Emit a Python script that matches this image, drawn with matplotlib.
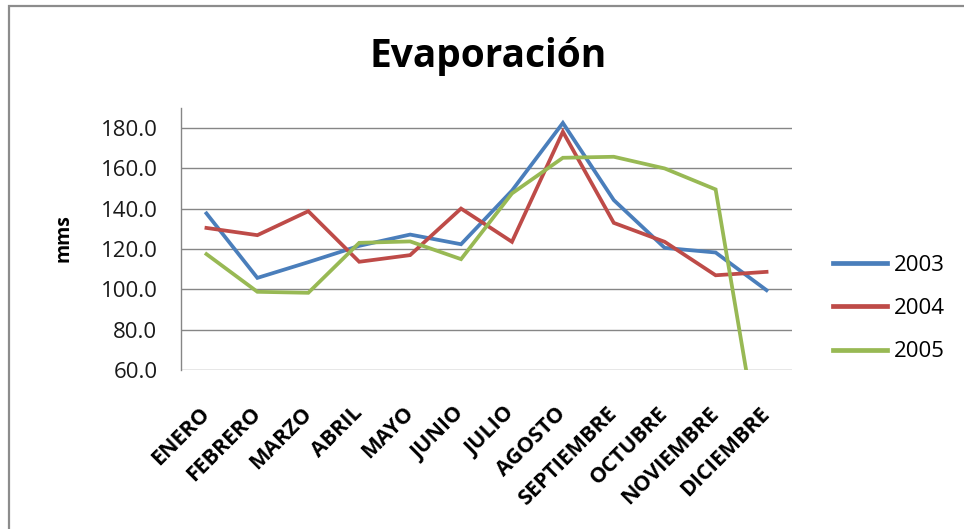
import numpy as np
import matplotlib
matplotlib.use('Agg')
import matplotlib.pyplot as plt
from matplotlib.patches import Rectangle

# Data
months = ['ENERO', 'FEBRERO', 'MARZO', 'ABRIL', 'MAYO', 'JUNIO', 'JULIO',
          'AGOSTO', 'SEPTIEMBRE', 'OCTUBRE', 'NOVIEMBRE', 'DICIEMBRE']
evap_2003 = [137.7, 105.7, 113.5, 121.6, 127.2, 122.4, 149.0,
             182.6, 144.3, 120.6, 118.3, 99.6]
evap_2004 = [130.5, 126.9, 138.8, 113.7, 117.0, 140.1, 123.6,
             178.2, 133.0, 123.6, 107.0, 108.7]
evap_2005 = [117.5, 98.8, 98.3, 123.1, 123.8, 115.0, 147.6,
             165.3, 165.8, 160.0, 149.6, 0.0]
years = ['2003', '2004', '2005']
y_ticks = [60, 80, 100, 120, 140, 160, 180]

# Chart styles
COLOURS = {'2003': '#4a7ebb', '2004': '#be4b48', '2005': '#98b954'}
FONT = 'Open Sans'

fig = plt.figure(figsize=(9.64, 5.29), dpi=100)
W, H = 964, 529
ax = fig.add_axes([181 / W, 1 - 370 / H, 611 / W, 262 / H])

x = np.arange(len(months))
for yr, vals in zip(years, [evap_2003, evap_2004, evap_2005]):
    ax.plot(x, vals, color=COLOURS[yr], linewidth=2.7,
            solid_joinstyle='miter', label=yr, zorder=3)

ax.set_xlim(-0.5, len(months) - 0.5)
ax.set_ylim(60, 190)
ax.set_yticks(y_ticks)
ax.set_yticklabels([f'{v:.1f}' for v in y_ticks],
                   fontsize=16, family=FONT, color='#1a1a1a')
ax.set_xticks(x)
ax.set_xticklabels(months, rotation=45, ha='right', va='center',
                   rotation_mode='anchor', fontsize=15.5,
                   fontweight='bold', family=FONT)
ax.tick_params(axis='y', length=0, pad=17)
ax.tick_params(axis='x', length=0, pad=29)
ax.grid(axis='y', color='#868686', linewidth=1.0)
ax.set_axisbelow(True)
for side in ['top', 'right', 'bottom']:
    ax.spines[side].set_visible(False)
ax.spines['left'].set_color('#868686')
ax.spines['left'].set_linewidth(1.0)

fig.text(63 / W, 1 - 238 / H, 'mms', rotation=90, ha='center',
         va='center', fontsize=14, fontweight='bold', family=FONT)
fig.text(488 / W, 1 - 67 / H, 'Evaporación', ha='center',
         va='baseline', fontsize=28, fontweight='bold', family=FONT)

leg = ax.legend(loc='upper left', bbox_to_anchor=(813 / W, 1 - 235 / H),
                bbox_transform=fig.transFigure, frameon=False,
                prop={'family': FONT, 'size': 16},
                handlelength=2.45, handletextpad=0.3, labelspacing=1.0)
for line in leg.get_lines():
    line.set_linewidth(3.4)

# Chart frame (only top and left edges visible in the crop)
fig.patches.append(Rectangle((9 / W, -0.1), 1.2, 1 - 6 / H + 0.1,
                             transform=fig.transFigure, fill=False,
                             edgecolor='#8c8c8c', linewidth=1.6))

plt.savefig('out.png', dpi=100)
plt.close()
